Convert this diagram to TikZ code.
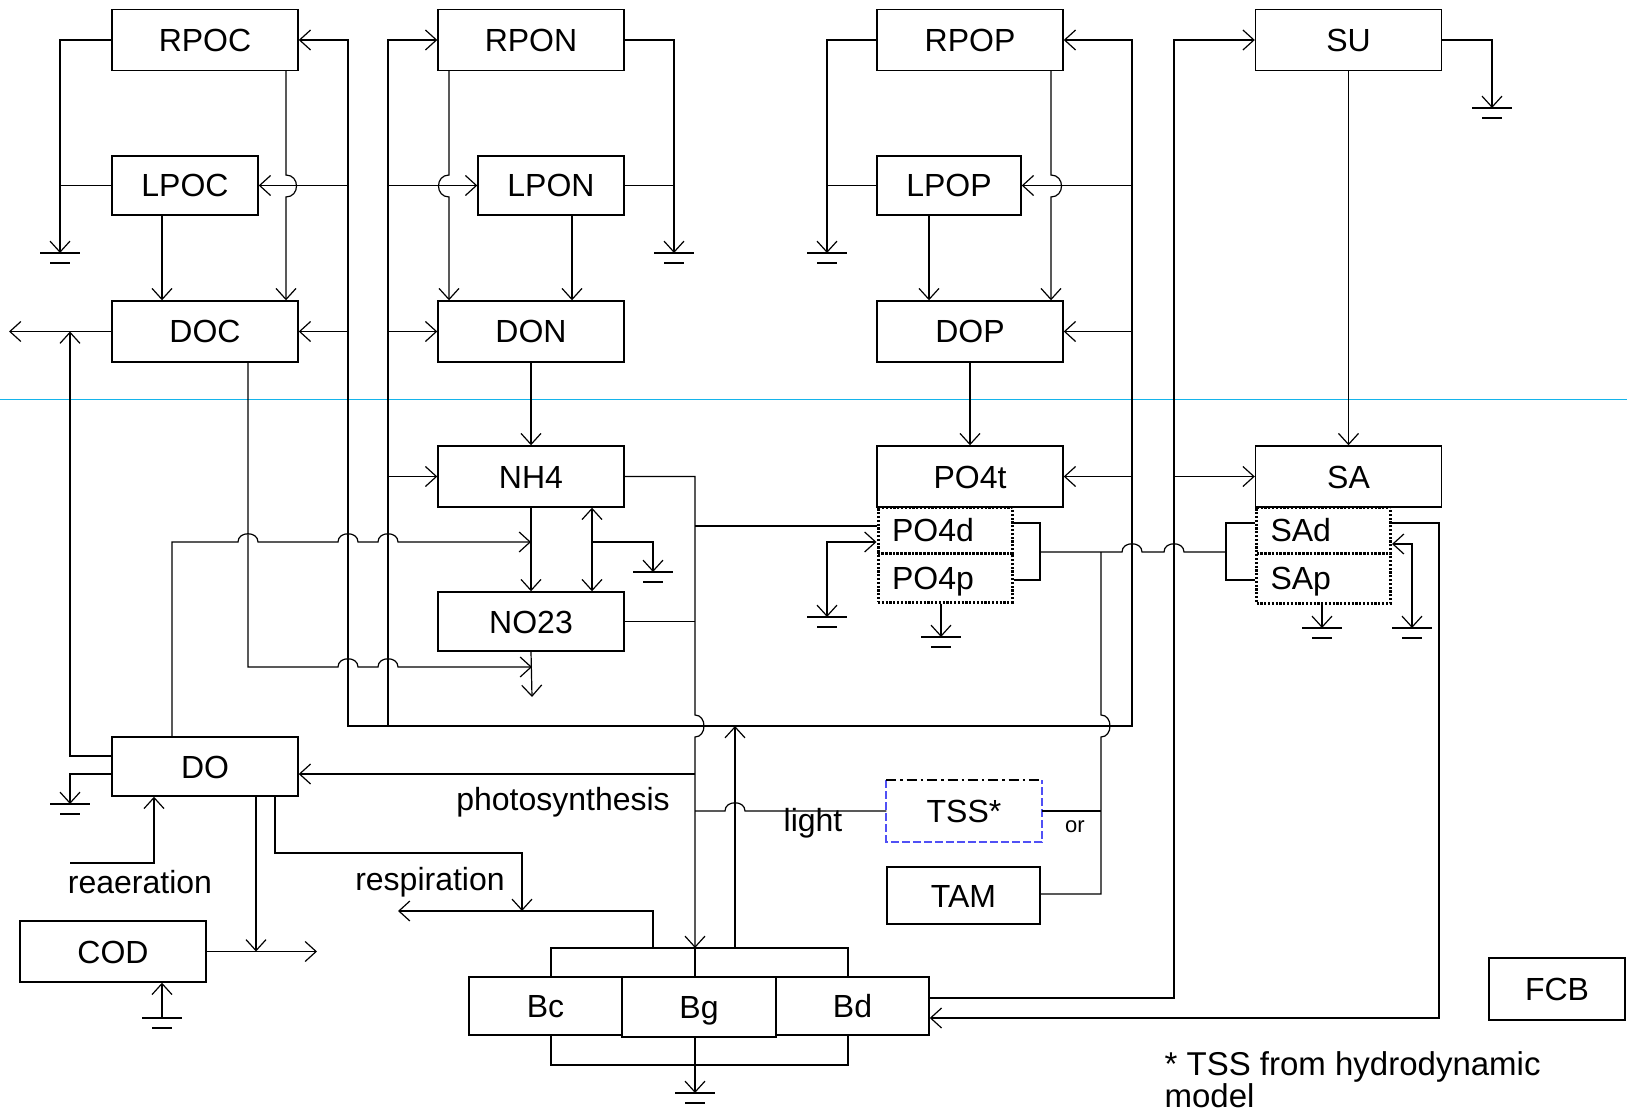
\documentclass[tikz,border=0pt]{standalone}
\usepackage{fontspec}
\setmainfont{Liberation Sans}
\usepackage{xcolor}
\usetikzlibrary{arrows.meta, calc}
\definecolor{sepcyan}{RGB}{20,180,235}
\definecolor{tssblue}{RGB}{80,80,245}

% line jumps: horizontal hop over x, vertical hop at y
\newcommand{\hopH}[2]{-- (#1-10,#2) .. controls +(0,-11) and +(0,-11) .. (#1+10,#2)}
\newcommand{\hopV}[3]{-- (#1,#2-11) .. controls +(#3,0) and +(#3,0) .. (#1,#2+11)}

\tikzset{
  box/.style={draw, line width=0.7pt, minimum width=93pt, minimum height=30.5pt,
    inner sep=0pt, text height=11.5pt, text depth=0pt, font=\fontsize{16}{19}\selectfont},
  lbox/.style={box, minimum width=73pt, minimum height=29.5pt},
  bbox/.style={box, minimum width=76.5pt, minimum height=29pt},
  subbox/.style={draw, dash pattern=on 1.1pt off 0.8pt, line width=1.5pt,
    text width=53pt, align=left, inner xsep=7pt, inner ysep=0pt,
    text height=11.5pt, text depth=0pt, font=\fontsize{16}{19}\selectfont},
  lbl/.style={inner sep=0pt, font=\fontsize{16}{19}\selectfont},
  earth/.pic={\draw (-20,0) -- (20,0) (-10,10) -- (10,10);},
}

\begin{document}
\begin{tikzpicture}[x=0.5pt, y=-0.5pt, line width=0.6pt,
  >={Straight Barb[length=5.5pt,width=10pt]}]
\useasboundingbox (0,0) rectangle (1627,1117);

% separator
\draw[sepcyan, line width=0.5pt] (0,400) -- (1627,400);

% carbon
\node[box] (RPOC) at (205,40) {RPOC};
\node[lbox] (LPOC) at (185,185.5) {LPOC};
\node[box] (DOC) at (205,331.5) {DOC};
% nitrogen
\node[box] (RPON) at (531,40) {RPON};
\node[lbox] (LPON) at (551,185.5) {LPON};
\node[box] (DON) at (531,331.5) {DON};
\node[box] (NH4) at (531,476.5) {NH4};
\node[box, minimum height=29.5pt] (NO23) at (531,621.5) {NO23};
% phosphorus
\node[box] (RPOP) at (970,40) {RPOP};
\node[lbox, minimum width=72pt] (LPOP) at (949,185.5) {LPOP};
\node[box] (DOP) at (970,331.5) {DOP};
\node[subbox, minimum height=23pt] (PO4d) at (945,530) {PO4d};
\node[subbox, minimum height=24.5pt] (PO4p) at (945,577.5) {PO4p};
\node[box] (PO4t) at (970,476.5) {PO4t};
% silica
\node[box] (SU) at (1348.5,40) {SU};
\node[subbox, minimum height=23pt] (SAd) at (1323.5,530) {SAd};
\node[subbox, minimum height=25pt] (SAp) at (1323.5,578) {SAp};
\node[box] (SA) at (1348.5,476.5) {SA};
% oxygen
\node[box, minimum height=29.5pt] (DO) at (205,766.5) {DO};
\node[box] (COD) at (113,951.5) {COD};
% algae
\node[bbox] (Bc) at (545.5,1006) {Bc};
\node[bbox] (Bd) at (852.5,1006) {Bd};
\node[bbox, minimum width=77pt, minimum height=30pt, fill=white] (Bg) at (699,1007) {Bg};
% solids
\node[bbox, draw=none, minimum width=77pt, minimum height=30pt] (TSS) at (964,811) {TSS*};
\node[bbox, minimum height=28.5pt] (TAM) at (963.5,895.5) {TAM};
\node[box, minimum width=68pt, minimum height=31pt] (FCB) at (1557,989) {FCB};
\draw[tssblue, dash pattern=on 4pt off 1.5pt, line width=0.9pt]
  (TSS.north west) -- (TSS.south west) -- (TSS.south east) -- (TSS.north east);
\draw[dash pattern=on 5pt off 2pt on 1.2pt off 2pt, line width=0.9pt]
  (TSS.north west) -- (TSS.north east);

% named points
\coordinate (botL) at (348,726);
\coordinate (botR) at (1132,726);
\coordinate (busN) at (388,726);
\coordinate (busS) at (1174,998);
\coordinate (upt) at (695,948);
\coordinate (rel) at (735,948);
\coordinate (gC) at (60,253);
\coordinate (gN) at (674,253);
\coordinate (gP) at (827,253);
\coordinate (gSU) at (1492,108);
\coordinate (gNH4) at (653,572);
\coordinate (gPO4) at (827,617);
\coordinate (gPO4p) at (941,637);
\coordinate (gSAp) at (1322,628);
\coordinate (gSAd) at (1412,628);
\coordinate (gDO) at (70,804);
\coordinate (gCOD) at (162,1018);
\coordinate (gB) at (695,1093);
\coordinate (outC) at (9,331.5);
\coordinate (outN) at (532,697);
\coordinate (outCOD) at (317,951.5);
\coordinate (outR) at (398,911);
\foreach \g in {gC,gN,gP,gSU,gNH4,gPO4,gPO4p,gSAp,gSAd,gDO,gB,gCOD}
  \pic at (\g) {earth};

% carbon links
\draw[->] (RPOC.west) -| (gC);
\draw (LPOC.west) -- (LPOC.west -| gC);
\draw[->] (RPOC.south -| 286,0) \hopV{286}{186}{14} -- (DOC.north -| 286,0);
\draw[->] (LPOC.south -| 162,0) -- (DOC.north -| 162,0);
\draw[<->] (RPOC.east) -| (botL) -- (botR) |- (RPOP.east);
\draw[->] (botL |- LPOC.east) -- (LPOC.east);
\draw[->] (botL |- DOC.east) -- (DOC.east);
\draw[->] (DOC.west) -- (outC);
\draw[->] (DO.west |- 0,756) -| (70,0 |- DOC.west);
\draw[->] (DOC.south -| 248,0) -- (248,667) \hopH{348}{667} \hopH{388}{667} -- (outN |- 0,667);

% nitrogen links
\draw[->] (busN) |- (RPON.west);
\draw[->] (busN |- LPON.west) -- (LPON.west);
\draw[->] (busN |- DON.west) -- (DON.west);
\draw[->] (busN |- NH4.west) -- (NH4.west);
\draw[->] (RPON.south -| 449,0) \hopV{449}{186}{-14} -- (DON.north -| 449,0);
\draw[->] (LPON.south -| 572,0) -- (DON.north -| 572,0);
\draw[->] (RPON.east) -| (gN);
\draw (LPON.east) -- (LPON.east -| gN);
\draw[->] (DON.south) -- (NH4.north);
\draw[->] (NH4.south) -- (NO23.north);
\draw[<->] (NH4.south -| 592,0) -- (NO23.north -| 592,0);
\draw[->] (592,542) -| (gNH4);
\draw[->] (NO23.south) -- (outN);
\draw[->] (DO.north -| 172,0) -- (172,542) \hopH{248}{542} \hopH{348}{542} \hopH{388}{542}
  -- (NH4.south |- 0,542);

% algal uptake and release
\draw[->] (NH4.east) -- (NH4.east -| upt) \hopV{695}{726}{12} -- (upt);
\draw (upt) -- (Bg.north -| upt);
\draw (NO23.east) -- (NO23.east -| upt);
\draw (upt |- 0,526) -- (PO4d.west |- 0,526);
\draw[->] (upt |- 0,774) -- (DO.east |- 0,774);
\draw (upt |- TSS.west) \hopH{735}{811} -- (TSS.west);
\draw[->] (rel) -- (rel |- botR);
\draw (Bc.north -| 551,0) -- (551,948) -- (848,948) -- (Bd.north -| 848,0);
\draw (Bc.south -| 551,0) -- (551,1065) -- (848,1065) -- (Bd.south -| 848,0);
\draw[->] (Bg.south -| gB) -- (gB);

% oxygen links
\draw[->] (DO.west |- 0,774) -| (gDO);
\draw[->] (70,863) -| (DO.south -| 154,0);
\draw[->] (DO.south -| 256,0) -- (COD.east -| 256,0);
\draw[->] (COD.east) -- (outCOD);
\draw[->] (gCOD) -- (COD.south -| gCOD);
\draw[->] (DO.south -| 275,0) -- (275,853) -- (522,853) -- (522,911);
\draw[->] (653,948) -- (653,911) -- (outR);

% phosphorus links
\draw[->] (RPOP.west) -| (gP);
\draw (LPOP.west) -- (LPOP.west -| gP);
\draw[->] (RPOP.south -| 1051,0) \hopV{1051}{186}{14} -- (DOP.north -| 1051,0);
\draw[->] (LPOP.south -| 929,0) -- (DOP.north -| 929,0);
\draw[->] (botR |- LPOP.east) -- (LPOP.east);
\draw[->] (botR |- DOP.east) -- (DOP.east);
\draw[->] (botR |- PO4t.east) -- (PO4t.east);
\draw[->] (DOP.south) -- (PO4t.north);
\draw[<->] (gPO4) |- (PO4d.west |- 0,542);
\draw[->] (PO4p.south -| gPO4p) -- (gPO4p);
\draw (PO4d.east |- 0,523) -- (1040,523) -- (1040,580) -- (PO4p.east |- 0,580);
\draw (1040,552) \hopH{1132}{552} \hopH{1174}{552} -- (1226,552);
\draw (SAd.west |- 0,523) -- (1226,523) -- (1226,580) -- (SAp.west |- 0,580);

% solids
\draw (1101,552) \hopV{1101}{726}{12} -- (1101,894) -- (TAM.east |- 0,894);
\draw (TSS.east) -- (TSS.east -| 1101,0);

% silica links
\draw[->] (Bd.east |- busS) -- (busS) |- (SU.west);
\draw[->] (busS |- SA.west) -- (SA.west);
\draw[->] (SU.east) -| (gSU);
\draw[->] (SU.south) -- (SA.north);
\draw[->] (SAp.south -| gSAp) -- (gSAp);
\draw[<->] (gSAd) |- (SAd.east |- 0,544);
\draw[->] (SAd.east |- 0,523) -| (1439,1018) -- (Bd.east |- 0,1018);

% labels
\node[lbl] (photo) at (563,802) {photosynthesis};
\node[lbl] (light) at (813,823) {light};
\node[lbl] (reaer) at (140,882) {reaeration};
\node[lbl] (resp) at (430,882) {respiration};
\node[lbl, font=\fontsize{11}{13}\selectfont] (orlbl) at (1075,827) {or};
\node[lbl, anchor=base west, font=\fontsize{16.5}{19}\selectfont] (noteA) at (1164,1075) {* TSS from hydrodynamic};
\node[lbl, anchor=base west, font=\fontsize{16.5}{19}\selectfont] (noteB) at (1164,1107) {model};
\end{tikzpicture}
\end{document}
